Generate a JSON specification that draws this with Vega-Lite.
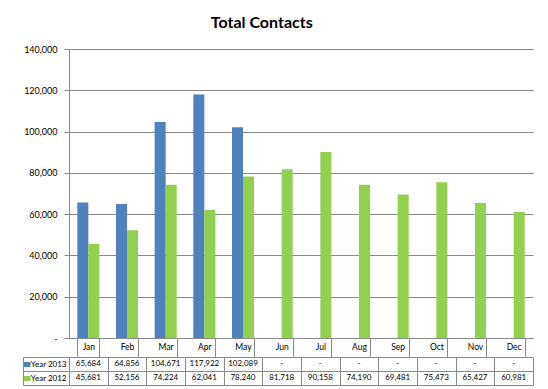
{
  "$schema": "https://vega.github.io/schema/vega-lite/v6.json",
  "padding": {"left": 20, "top": 15, "right": 14, "bottom": 3},
  "background": "white",
  "title": {"text": "Total Contacts", "font": "Lato", "fontSize": 16, "fontWeight": "bold", "color": "#000000", "anchor": "middle", "dx": -15, "offset": 14},
  "config": {
    "font": "Lato",
    "view": {"stroke": null}
  },
  "datasets": {
    "contacts": [
      {"month": "Jan", "series": "Year 2013", "value": 65684},
      {"month": "Feb", "series": "Year 2013", "value": 64856},
      {"month": "Mar", "series": "Year 2013", "value": 104671},
      {"month": "Apr", "series": "Year 2013", "value": 117922},
      {"month": "May", "series": "Year 2013", "value": 102089},
      {"month": "Jun", "series": "Year 2013", "value": null},
      {"month": "Jul", "series": "Year 2013", "value": null},
      {"month": "Aug", "series": "Year 2013", "value": null},
      {"month": "Sep", "series": "Year 2013", "value": null},
      {"month": "Oct", "series": "Year 2013", "value": null},
      {"month": "Nov", "series": "Year 2013", "value": null},
      {"month": "Dec", "series": "Year 2013", "value": null},
      {"month": "Jan", "series": "Year 2012", "value": 45681},
      {"month": "Feb", "series": "Year 2012", "value": 52156},
      {"month": "Mar", "series": "Year 2012", "value": 74224},
      {"month": "Apr", "series": "Year 2012", "value": 62041},
      {"month": "May", "series": "Year 2012", "value": 78240},
      {"month": "Jun", "series": "Year 2012", "value": 81718},
      {"month": "Jul", "series": "Year 2012", "value": 90158},
      {"month": "Aug", "series": "Year 2012", "value": 74190},
      {"month": "Sep", "series": "Year 2012", "value": 69481},
      {"month": "Oct", "series": "Year 2012", "value": 75473},
      {"month": "Nov", "series": "Year 2012", "value": 65427},
      {"month": "Dec", "series": "Year 2012", "value": 60981}
    ]
  },
  "spacing": 19,
  "bounds": "flush",
  "resolve": {"scale": {"x": "independent", "y": "independent", "color": "independent"}},
  "vconcat": [
    {
      "width": 464,
      "height": 289,
      "data": {"name": "contacts"},
      "resolve": {"axis": {"x": "independent"}},
      "layer": [
        {
          "mark": {"type": "bar"},
          "encoding": {
            "x": {
              "field": "month", "type": "nominal",
              "scale": {"domain": ["Jan","Feb","Mar","Apr","May","Jun","Jul","Aug","Sep","Oct","Nov","Dec"], "paddingInner": 0.43, "paddingOuter": 0.215},
              "axis": {"title": null, "orient": "bottom", "labelAngle": 0, "labelFontSize": 8.5, "labelColor": "#000000", "labelBaseline": "top", "tickBand": "extent", "tickSize": 19, "tickColor": "#8a8a8a", "domainColor": "#8a8a8a", "labelPadding": -15, "grid": false}
            },
            "xOffset": {"field": "series", "type": "nominal", "scale": {"domain": ["Year 2013", "Year 2012"]}},
            "y": {
              "field": "value", "type": "quantitative",
              "scale": {"domain": [0, 140000], "nice": false},
              "axis": {"title": null, "values": [0,20000,40000,60000,80000,100000,120000,140000], "labelExpr": "datum.value == 0 ? '-\u00a0\u00a0\u00a0' : format(datum.value, ',')", "labelFontSize": 9, "labelColor": "#000000", "tickSize": 5, "tickColor": "#8a8a8a", "domainColor": "#8a8a8a", "gridColor": "#8a8a8a", "gridOpacity": 1, "labelPadding": 7}
            },
            "color": {
              "field": "series", "type": "nominal",
              "scale": {"domain": ["Year 2013", "Year 2012"], "range": ["#4F81BD", "#92D050"]},
              "legend": null
            }
          }
        },
        {
          "mark": {"type": "point", "opacity": 0},
          "encoding": {
            "x": {
              "field": "month", "type": "nominal",
              "axis": {"title": null, "orient": "top", "labels": false, "ticks": false, "domain": true, "domainColor": "#8a8a8a", "grid": false}
            },
            "y": {"field": "value", "type": "quantitative"}
          }
        }
      ]
    },
    {
      "width": 464,
      "height": 28,
      "data": {"name": "contacts"},
      "resolve": {"axis": {"y": "independent"}},
      "layer": [
        {
          "mark": {"type": "text", "fontSize": 8, "color": "#000000", "baseline": "middle"},
          "encoding": {
            "x": {
              "field": "month", "type": "nominal",
              "scale": {"domain": ["Jan","Feb","Mar","Apr","May","Jun","Jul","Aug","Sep","Oct","Nov","Dec"], "paddingInner": 0, "paddingOuter": 0},
              "axis": {"title": null, "labels": false, "ticks": false, "domain": false, "grid": true, "tickBand": "extent", "gridColor": "#8a8a8a", "gridOpacity": 1}
            },
            "y": {
              "field": "series", "type": "nominal",
              "scale": {"domain": ["Year 2013", "Year 2012"], "paddingInner": 0, "paddingOuter": 0},
              "axis": {"title": null, "orient": "left", "grid": true, "tickBand": "extent", "gridColor": "#8a8a8a", "gridOpacity": 1, "tickColor": "#8a8a8a", "tickSize": 46, "labelPadding": -43, "labelFontSize": 8, "labelColor": "#000000", "domain": false}
            },
            "text": {"condition": {"test": "datum.value == null", "value": "-"}, "field": "value", "type": "quantitative", "format": ","}
          }
        },
        {
          "mark": {"type": "point", "opacity": 0},
          "encoding": {
            "x": {"field": "month", "type": "nominal"},
            "y": {
              "field": "series", "type": "nominal",
              "axis": {"title": null, "orient": "left", "offset": 46, "labels": false, "domain": true, "domainColor": "#8a8a8a", "tickSize": -7, "tickWidth": 5, "tickColor": {"condition": {"test": "datum.value == 'Year 2013'", "value": "#4F81BD"}, "value": "#92D050"}, "grid": false}
            }
          }
        }
      ]
    }
  ]
}
